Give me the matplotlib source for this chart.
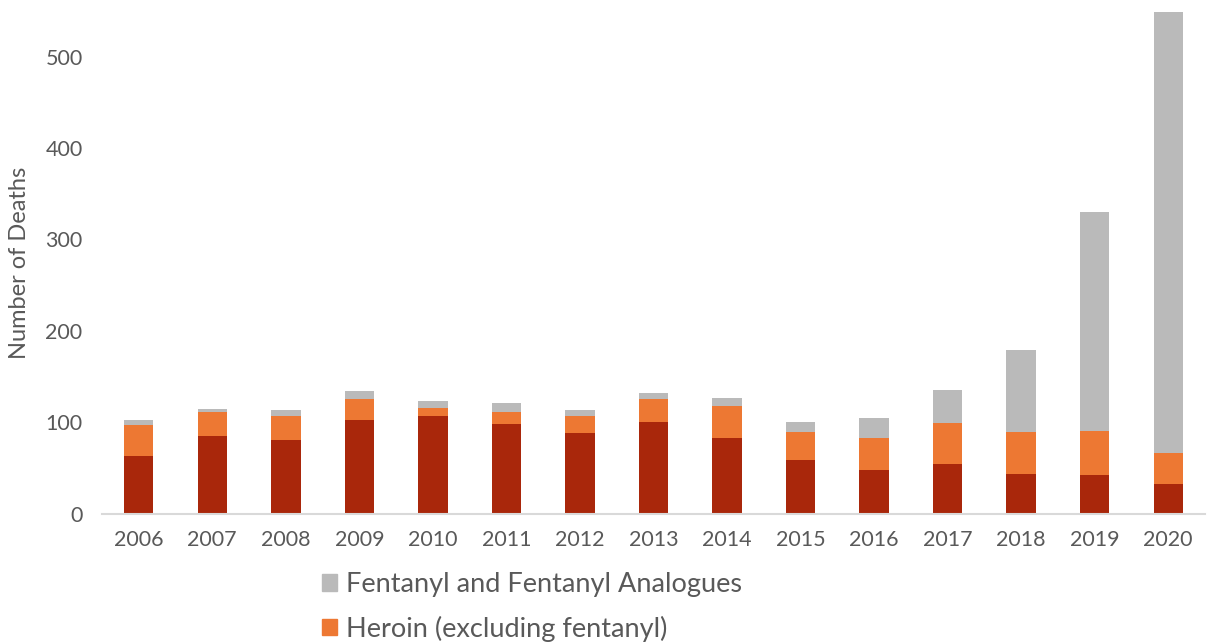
import matplotlib
matplotlib.use("Agg")
import matplotlib.pyplot as plt
from matplotlib.patches import Patch

years = ["2006", "2007", "2008", "2009", "2010", "2011", "2012", "2013",
         "2014", "2015", "2016", "2017", "2018", "2019", "2020"]
other = [63, 85, 80, 102, 107, 98, 88, 100, 83, 59, 48, 54, 43, 42, 32]
heroin = [34, 26, 27, 23, 9, 13, 19, 25, 35, 30, 35, 45, 46, 48, 34]
fentanyl = [5, 3, 6, 9, 7, 10, 6, 7, 8, 11, 22, 36, 90, 240, 484]

c_other = "#A9270B"
c_heroin = "#ED7833"
c_fent = "#BABABA"
txt = "#595959"

plt.rcParams['font.family'] = ['Lato', 'DejaVu Sans']

fig = plt.figure(figsize=(12.14, 6.44), dpi=100)
ax = fig.add_axes([102/1214, 130.5/644, 1103/1214, 501.5/644])

x = list(range(len(years)))
w = 0.4
bot2 = [a + b for a, b in zip(other, heroin)]
ax.bar(x, other, w, color=c_other, edgecolor="none")
ax.bar(x, heroin, w, bottom=other, color=c_heroin, edgecolor="none")
ax.bar(x, fentanyl, w, bottom=bot2, color=c_fent, edgecolor="none")

ax.set_xlim(-0.5, len(years) - 0.5)
ax.set_ylim(0, 549)
ax.set_yticks([0, 100, 200, 300, 400, 500])
ax.set_xticks(x)
ax.set_xticklabels(years)
for s in ["top", "right", "left"]:
    ax.spines[s].set_visible(False)
ax.spines["bottom"].set_color("#D9D9D9")
ax.spines["bottom"].set_linewidth(1.5)
ax.tick_params(axis="both", length=0, labelsize=15.5, colors=txt)
ax.tick_params(axis="x", pad=12)
ax.tick_params(axis="y", pad=14)
ax.set_ylabel("Number of Deaths", fontsize=17, color=txt)
ax.yaxis.set_label_coords(-0.065, 0.5)

handles = [Patch(color=c_fent, label="Fentanyl and Fentanyl Analogues"),
           Patch(color=c_heroin, label="Heroin (excluding fentanyl)")]
leg = fig.legend(handles=handles, loc="upper left", bbox_to_anchor=(322/1214, 1 - 572/644),
                 frameon=False, fontsize=19.5, labelcolor=txt, handlelength=0.55,
                 handleheight=0.55, handletextpad=0.35, labelspacing=0.68,
                 borderaxespad=0, borderpad=0)

fig.savefig("out.png", dpi=100)
